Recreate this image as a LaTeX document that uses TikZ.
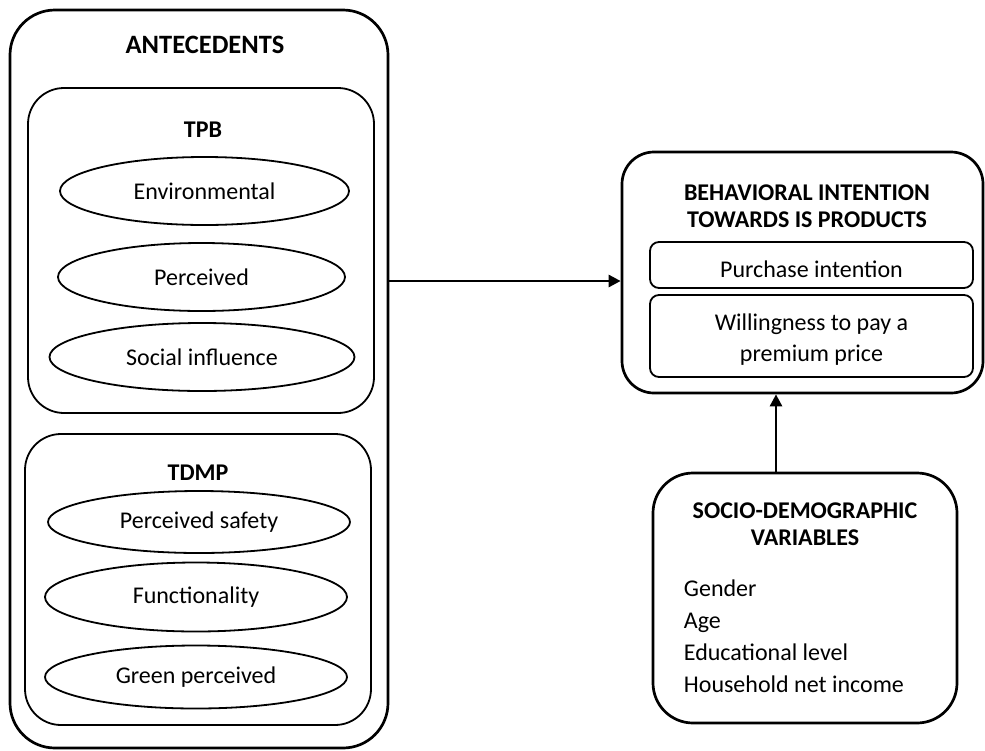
\documentclass[tikz,border=0pt]{standalone}
\usepackage{fontspec}
\setmainfont{Carlito}
\usepackage{tikz}
\usetikzlibrary{arrows.meta,calc,positioning,shapes.geometric}
\tikzset{
  grupo/.style={
    rounded corners=45pt,
    draw=black,
    line width=2.7pt,
    inner sep=0pt
  },
  subgrupo/.style={
    rounded corners=36pt,
    draw=black,
    line width=1.8pt,
    inner sep=0pt
  },
  factor/.style={
    ellipse,
    draw=black,
    line width=1.8pt,
    inner sep=0pt,
    font=\fontsize{24}{28}\selectfont
  },
  caja/.style={
    rounded corners=9pt,
    draw=black,
    line width=1.8pt,
    inner sep=0pt,
    align=center,
    font=\fontsize{24}{31}\selectfont
  },
  titulo/.style={
    align=center,
    inner sep=0pt,
    font=\fontsize{24}{27}\selectfont\bfseries
  },
  arrow/.style={
    -{Triangle[length=12pt,width=12pt]},
    line width=2.7pt
  }
}

\begin{document}
\begin{tikzpicture}[x=1pt,y=-1pt]
\useasboundingbox (0,0) rectangle (985,750);
% antecedentes
\node[grupo, minimum width=378pt, minimum height=738pt] (ante) at (199,379) {};
\node[titulo, font=\fontsize{26.5}{30}\selectfont\bfseries] (anteT) at (205,45) {ANTECEDENTS};
\node[subgrupo, minimum width=346pt, minimum height=325pt] (tpb) at (201,250.5) {};
\node[titulo] (tpbT) at (203,130) {TPB};
\node[factor, minimum width=289pt, minimum height=68pt] (env) at (204.5,191) {Environmental};
\node[factor, minimum width=287pt, minimum height=68pt] (perc) at (201.5,277) {Perceived};
\node[factor, minimum width=305pt, minimum height=68pt] (soc) at (202,357) {Social influence};
\node[subgrupo, minimum width=346pt, minimum height=291pt] (tdmp) at (198,579.5) {};
\node[titulo] (tdmpT) at (198,473) {TDMP};
\node[factor, minimum width=302pt, minimum height=62pt] (safe) at (199,522) {Perceived safety};
\node[factor, minimum width=302pt, minimum height=69pt] (func) at (196,597) {Functionality};
\node[factor, minimum width=302pt, minimum height=63pt] (green) at (196,677) {Green perceived};
% intencion
\node[grupo, rounded corners=32pt, minimum width=361pt, minimum height=241pt] (behav) at (802.5,272.5) {};
\node[titulo] (behavT) at (807,206) {BEHAVIORAL INTENTION\\TOWARDS IS PRODUCTS};
\node[caja, minimum width=323pt, minimum height=46pt] (purch) at (811.5,265) {};
\node (purchT) at (811.5,269) [font=\fontsize{24}{28}\selectfont, inner sep=0pt] {Purchase intention};
\node[caja, minimum width=323pt, minimum height=82pt] (will) at (811.5,336) {};
\node[caja, draw=none] (willT) at (811.5,340) {Willingness to pay a\\premium price};
% sociodemograficas
\node[grupo, rounded corners=40pt, minimum width=304pt, minimum height=250pt] (socio) at (805,598) {};
\node[titulo] (socioT) at (805,524) {SOCIO-DEMOGRAPHIC\\VARIABLES};
\node[caja, draw=none, align=left, anchor=north west, font=\fontsize{24}{32}\selectfont] (vars) at (683,579) {Gender\\Age\\Educational level\\Household net income};
% flechas
\draw[arrow] ([yshift=-8.5pt]behav.west -| ante.east) -- ([yshift=-8.5pt]behav.west);
\draw[arrow] ([xshift=-29pt]socio.north) -- ([xshift=-29pt]socio.north |- behav.south);
\end{tikzpicture}
\end{document}
